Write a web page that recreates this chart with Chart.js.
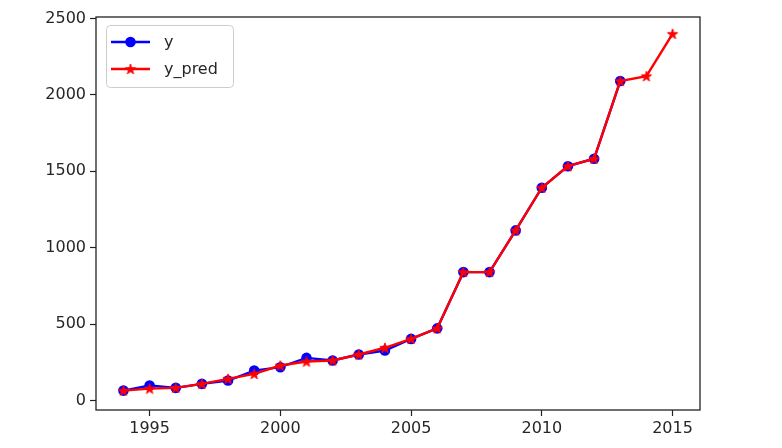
<!DOCTYPE html>
<html lang="en">
<head>
    <meta charset="UTF-8">
    <title>y vs y_pred</title>
    <script src="https://cdn.jsdelivr.net/npm/chart.js"></script>
    <style>
        body { margin: 0; background: #ffffff; }
    </style>
</head>
<body>
    <canvas id="myChart" width="782" height="448"></canvas>

    <script>
        // datos
        const yearsY = [1994, 1995, 1996, 1997, 1998, 1999, 2000, 2001, 2002, 2003, 2004, 2005, 2006, 2007, 2008, 2009, 2010, 2011, 2012, 2013];
        const valuesY = [65, 98, 83, 109, 131, 196, 218, 279, 262, 301, 327, 403, 472, 840, 840, 1113, 1392, 1533, 1582, 2090];
        const yearsPred = [1994, 1995, 1996, 1997, 1998, 1999, 2000, 2001, 2002, 2003, 2004, 2005, 2006, 2007, 2008, 2009, 2010, 2011, 2012, 2013, 2014, 2015];
        const valuesPred = [65, 78, 83, 109, 142, 174, 229, 255, 262, 301, 345, 403, 472, 840, 840, 1113, 1392, 1533, 1582, 2090, 2122, 2399];
        const xTicks = [1995, 2000, 2005, 2010, 2015];
        const yTicks = [0, 500, 1000, 1500, 2000, 2500];

        const FONT = '"DejaVu Sans", sans-serif';
        const TEXT = '#262626';

        // estrella rellena tipo matplotlib '*'
        function makeStar(color) {
            const c = document.createElement('canvas');
            c.width = 14; c.height = 14;
            const g = c.getContext('2d');
            const R = 5.4, r = R * 0.382;
            g.beginPath();
            for (let i = 0; i < 10; i++) {
                const rad = i % 2 === 0 ? R : r;
                const a = -Math.PI / 2 + i * Math.PI / 5;
                const px = 7 + rad * Math.cos(a), py = 7.5 + rad * Math.sin(a);
                if (i === 0) g.moveTo(px, py); else g.lineTo(px, py);
            }
            g.closePath();
            g.fillStyle = color;
            g.fill();
            g.strokeStyle = color;
            g.lineWidth = 1;
            g.stroke();
            return c;
        }
        const starRed = makeStar('#ff0000');

        // marco completo + leyenda dentro del area
        const framePlugin = {
            id: 'frame',
            afterDraw(chart) {
                const ctx = chart.ctx;
                const a = chart.chartArea;
                ctx.save();
                ctx.strokeStyle = '#222';
                ctx.lineWidth = 1.3;
                ctx.strokeRect(a.left, a.top, a.right - a.left, a.bottom - a.top);

                // leyenda
                const bx = a.left + 10, by = a.top + 8, bw = 127, bh = 62;
                ctx.beginPath();
                ctx.roundRect(bx + 0.5, by + 0.5, bw, bh, 4);
                ctx.fillStyle = 'rgba(255,255,255,0.8)';
                ctx.fill();
                ctx.strokeStyle = '#cccccc';
                ctx.lineWidth = 1;
                ctx.stroke();

                const items = [
                    { label: 'y', color: '#0000ff', marker: 'circle' },
                    { label: 'y_pred', color: '#ff0000', marker: 'star' }
                ];
                items.forEach((it, i) => {
                    const yy = by + 17 + i * 27;
                    ctx.beginPath();
                    ctx.moveTo(bx + 5, yy);
                    ctx.lineTo(bx + 44, yy);
                    ctx.strokeStyle = it.color;
                    ctx.lineWidth = 2.4;
                    ctx.stroke();
                    if (it.marker === 'circle') {
                        ctx.beginPath();
                        ctx.arc(bx + 24.5, yy, 5.3, 0, Math.PI * 2);
                        ctx.fillStyle = it.color;
                        ctx.fill();
                    } else {
                        ctx.drawImage(starRed, bx + 24.5 - 7, yy - 7);
                    }
                    ctx.fillStyle = TEXT;
                    ctx.font = '16px ' + FONT;
                    ctx.textBaseline = 'middle';
                    ctx.textAlign = 'left';
                    ctx.fillText(it.label, bx + 58, yy + 1);
                });
                ctx.restore();
            }
        };

        const ctx = document.getElementById('myChart').getContext('2d');
        new Chart(ctx, {
            type: 'line',
            data: {
                datasets: [
                    {
                        label: 'y',
                        data: yearsY.map((yr, i) => ({ x: yr, y: valuesY[i] })),
                        borderColor: '#0000ff',
                        backgroundColor: '#0000ff',
                        borderWidth: 2.4,
                        pointStyle: 'circle',
                        pointRadius: 5.3,
                        pointBorderWidth: 0,
                        order: 1
                    },
                    {
                        label: 'y_pred',
                        data: yearsPred.map((yr, i) => ({ x: yr, y: valuesPred[i] })),
                        borderColor: '#ff0000',
                        backgroundColor: '#ff0000',
                        borderWidth: 2.4,
                        pointStyle: starRed,
                        pointRadius: 5,
                        order: 0
                    }
                ]
            },
            options: {
                responsive: false,
                animation: false,
                layout: { padding: { top: 17, right: 82, bottom: 0, left: 0 } },
                plugins: {
                    legend: { display: false },
                    tooltip: { enabled: false }
                },
                scales: {
                    x: {
                        type: 'linear',
                        min: 1992.95,
                        max: 2016.05,
                        afterBuildTicks: axis => { axis.ticks = xTicks.map(v => ({ value: v })); },
                        afterFit: axis => { axis.height = 38; },
                        grid: { drawOnChartArea: false, tickLength: 6, color: '#222', tickWidth: 1.2 },
                        border: { display: false },
                        ticks: {
                            color: TEXT,
                            font: { family: FONT, size: 16 },
                            padding: 3,
                            maxRotation: 0,
                            callback: v => String(v)
                        }
                    },
                    y: {
                        min: -62,
                        max: 2509,
                        afterBuildTicks: axis => { axis.ticks = yTicks.map(v => ({ value: v })); },
                        afterFit: axis => { axis.width = 96; },
                        grid: { drawOnChartArea: false, tickLength: 6, color: '#222', tickWidth: 1.2 },
                        border: { display: false },
                        ticks: {
                            color: TEXT,
                            font: { family: FONT, size: 16 },
                            padding: 4,
                            callback: v => String(v)
                        }
                    }
                }
            },
            plugins: [framePlugin]
        });
    </script>
</body>
</html>
